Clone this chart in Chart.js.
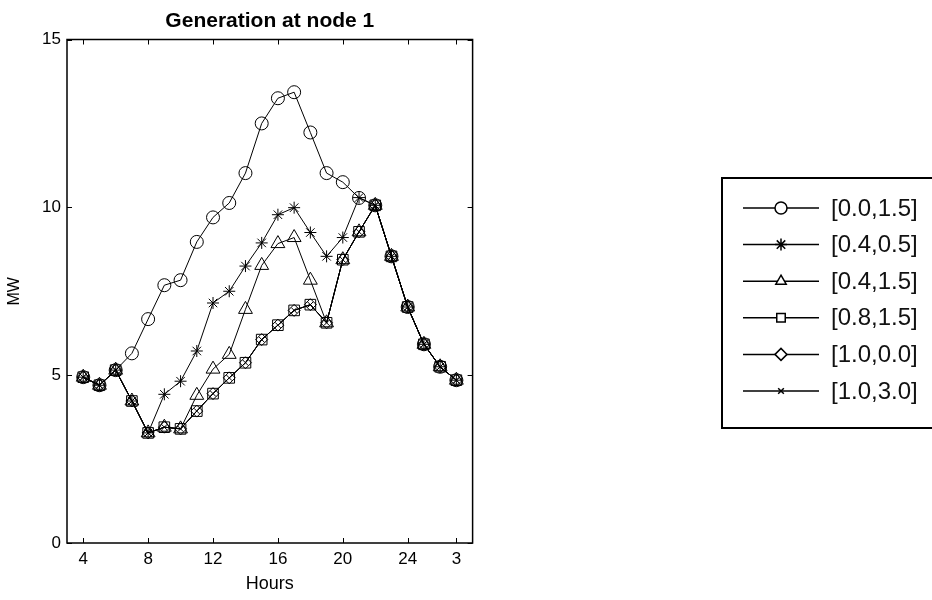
<!DOCTYPE html>
<html>
<head>
<meta charset="utf-8">
<script src="https://cdn.jsdelivr.net/npm/chart.js@4/dist/chart.umd.min.js"></script>
<style>
  body { margin: 0; background: #fff; }
  canvas { display: block; }
</style>
</head>
<body>
<canvas id="gen" width="932" height="600"></canvas>
<script>
// hours of the day, 27 is shown as "3" (next morning)
const hours = [4, 5, 6, 7, 8, 9, 10, 11, 12, 13, 14, 15, 16, 17, 18, 19, 20, 21, 22, 23, 24, 25, 26, 27];
const xTickValues = [4, 8, 12, 16, 20, 24, 27];
const xTickLabels = ['4', '8', '12', '16', '20', '24', '3'];
const yTickValues = [0, 5, 10, 15];

const labels = ['[0.0,1.5]', '[0.4,0.5]', '[0.4,1.5]', '[0.8,1.5]', '[1.0,0.0]', '[1.0,3.0]'];

const gen00_15 = [4.94, 4.70, 5.15, 5.65, 6.67, 7.68, 7.83, 8.97, 9.70, 10.13, 11.02, 12.50, 13.25, 13.43, 12.23, 11.02, 10.75, 10.28, 10.06, 8.54, 7.03, 5.92, 5.25, 4.85];
const gen04_05 = [4.94, 4.70, 5.15, 4.23, 3.28, 4.43, 4.82, 5.72, 7.15, 7.50, 8.25, 8.94, 9.78, 9.99, 9.25, 8.54, 9.10, 10.29, 10.06, 8.54, 7.03, 5.92, 5.25, 4.85];
const gen04_15 = [4.94, 4.70, 5.15, 4.23, 3.28, 3.45, 3.40, 4.40, 5.18, 5.62, 6.96, 8.27, 8.92, 9.10, 7.83, 6.56, 8.44, 9.27, 10.06, 8.54, 7.03, 5.92, 5.25, 4.85];
const gen08_15 = [4.94, 4.70, 5.15, 4.23, 3.28, 3.45, 3.40, 3.93, 4.45, 4.92, 5.37, 6.06, 6.49, 6.93, 7.10, 6.56, 8.44, 9.27, 10.06, 8.54, 7.03, 5.92, 5.25, 4.85];
const gen10_00 = [4.94, 4.70, 5.15, 4.23, 3.28, 3.45, 3.40, 3.93, 4.45, 4.92, 5.37, 6.06, 6.49, 6.93, 7.10, 6.56, 8.44, 9.27, 10.06, 8.54, 7.03, 5.92, 5.25, 4.85];
const gen10_30 = [4.94, 4.70, 5.15, 4.23, 3.28, 3.45, 3.40, 3.93, 4.45, 4.92, 5.37, 6.06, 6.49, 6.93, 7.10, 6.56, 8.44, 9.27, 10.06, 8.54, 7.03, 5.92, 5.25, 4.85];

const series = [gen00_15, gen04_05, gen04_15, gen08_15, gen10_00, gen10_30];
const markers = [
    { pointStyle: 'circle', radius: 6.5 },
    { pointStyle: 'star', radius: 6 },
    { pointStyle: 'triangle', radius: 8 },
    { pointStyle: 'rect', radius: 7.5 },
    { pointStyle: 'rectRot', radius: 6 },
    { pointStyle: 'crossRot', radius: 4 }
];

const FONT = '"Liberation Sans", Arial, Helvetica, sans-serif';

// matlab style frame, inward ticks, title and legend box
const matlabFrame = {
    id: 'matlabFrame',
    afterDraw(chart) {
        const ctx = chart.ctx;
        const a = chart.chartArea;
        const xs = chart.scales.x, ys = chart.scales.y;
        const tick = 5;
        ctx.save();
        ctx.strokeStyle = '#000';
        ctx.lineWidth = 1;
        ctx.beginPath();
        xs.ticks.forEach(t => {
            const px = Math.round(xs.getPixelForValue(t.value)) + 0.5;
            ctx.moveTo(px, a.bottom); ctx.lineTo(px, a.bottom - tick);
            ctx.moveTo(px, a.top); ctx.lineTo(px, a.top + tick);
        });
        ys.ticks.forEach(t => {
            const py = Math.round(ys.getPixelForValue(t.value)) + 0.5;
            ctx.moveTo(a.left, py); ctx.lineTo(a.left + tick, py);
            ctx.moveTo(a.right, py); ctx.lineTo(a.right - tick, py);
        });
        ctx.stroke();
        ctx.lineWidth = 1.5;
        ctx.strokeRect(a.left, a.top, a.right - a.left, a.bottom - a.top);

        // title
        ctx.fillStyle = '#000';
        ctx.font = 'bold 21px ' + FONT;
        ctx.textAlign = 'center';
        ctx.textBaseline = 'middle';
        ctx.fillText('Generation at node 1', (a.left + a.right) / 2, 21);

        // legend
        const bx = 722, by = 178, bw = 230, bh = 250;
        ctx.lineWidth = 2;
        ctx.strokeRect(bx, by, bw, bh);
        ctx.font = '24px ' + FONT;
        ctx.textAlign = 'left';
        labels.forEach((lab, i) => {
            const y = 208 + i * 36.6;
            ctx.lineWidth = 1.5;
            ctx.beginPath();
            ctx.moveTo(743, y); ctx.lineTo(819, y);
            ctx.stroke();
            ctx.fillStyle = '#fff';
            Chart.helpers.drawPoint(ctx, {
                pointStyle: markers[i].pointStyle,
                radius: Math.min(markers[i].radius, 6),
                borderWidth: 1.5,
                rotation: 0
            }, 781, y);
            ctx.fillStyle = '#111';
            ctx.fillText(lab, 831, y + 1);
        });
        ctx.restore();
    }
};

const datasets = series.map((vals, i) => ({
    label: labels[i],
    data: hours.map((h, k) => ({ x: h, y: vals[k] })),
    borderColor: '#000',
    borderWidth: 1,
    pointStyle: markers[i].pointStyle,
    pointRadius: markers[i].radius,
    pointBorderColor: '#000',
    pointBackgroundColor: 'rgba(0,0,0,0)',
    pointBorderWidth: 1,
    tension: 0,
    fill: false
}));

new Chart(document.getElementById('gen').getContext('2d'), {
    type: 'line',
    data: { datasets },
    options: {
        responsive: false,
        animation: false,
        layout: { padding: { left: 0, top: 39.5, right: 459.4, bottom: 0 } },
        plugins: {
            legend: { display: false },
            title: { display: false },
            tooltip: { enabled: false }
        },
        scales: {
            x: {
                type: 'linear',
                min: 3,
                max: 28,
                grid: { display: false, drawTicks: false },
                border: { display: false },
                afterBuildTicks: scale => { scale.ticks = xTickValues.map(v => ({ value: v })); },
                afterFit: scale => { scale.height = 57; },
                ticks: {
                    autoSkip: false,
                    maxRotation: 0,
                    padding: 6,
                    color: '#000',
                    font: { family: FONT, size: 17 },
                    callback: v => xTickLabels[xTickValues.indexOf(v)]
                },
                title: {
                    display: true,
                    text: 'Hours',
                    color: '#000',
                    font: { family: FONT, size: 18 },
                    padding: { top: 0, bottom: 5 }
                }
            },
            y: {
                min: 0,
                max: 15,
                grid: { display: false, drawTicks: false },
                border: { display: false },
                afterBuildTicks: scale => { scale.ticks = yTickValues.map(v => ({ value: v })); },
                afterFit: scale => { scale.width = 67; },
                ticks: {
                    padding: 6,
                    color: '#000',
                    font: { family: FONT, size: 17 }
                },
                title: {
                    display: true,
                    text: 'MW',
                    color: '#000',
                    font: { family: FONT, size: 16 },
                    padding: { top: 5, bottom: 0 }
                }
            }
        }
    },
    plugins: [matlabFrame]
});
</script>
</body>
</html>
